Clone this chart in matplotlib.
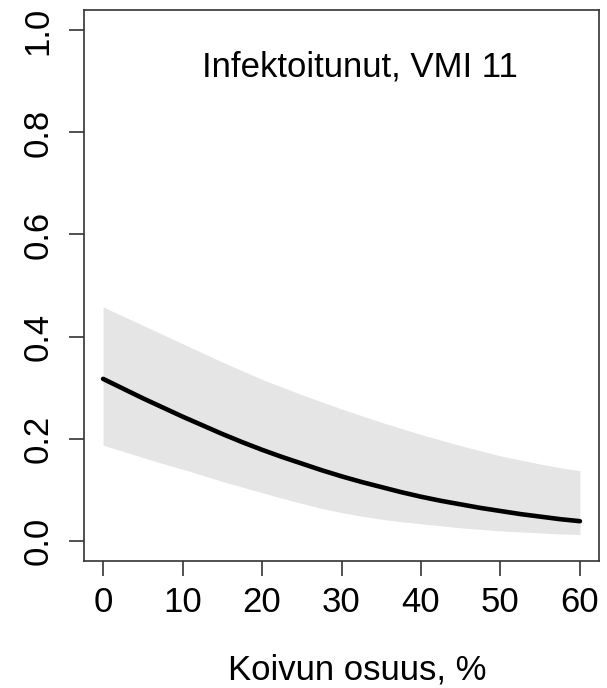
import numpy as np
import matplotlib
matplotlib.use('Agg')
import matplotlib.pyplot as plt

plt.rcParams['font.family'] = ['Liberation Sans', 'DejaVu Sans']

# birch share (%) and predicted probability with confidence band
koivu = [0, 2.5, 5, 7.5, 10, 12.5, 15, 17.5, 20, 22.5, 25, 27.5, 30,
         32.5, 35, 37.5, 40, 42.5, 45, 47.5, 50, 52.5, 55, 57.5, 60]
ennuste = [0.317, 0.298, 0.279, 0.261, 0.243, 0.226, 0.209, 0.193, 0.178, 0.164, 0.151, 0.138, 0.126,
           0.115, 0.105, 0.095, 0.086, 0.078, 0.071, 0.064, 0.058, 0.052, 0.047, 0.042, 0.038]
ylaraja = [0.458, 0.440, 0.422, 0.404, 0.386, 0.368, 0.350, 0.333, 0.316, 0.301, 0.286, 0.272, 0.258,
           0.245, 0.232, 0.220, 0.208, 0.197, 0.186, 0.176, 0.166, 0.158, 0.150, 0.143, 0.137]
alaraja = [0.187, 0.175, 0.163, 0.151, 0.140, 0.128, 0.116, 0.105, 0.094, 0.083, 0.073, 0.063, 0.055,
           0.048, 0.042, 0.037, 0.033, 0.029, 0.025, 0.022, 0.019, 0.017, 0.015, 0.013, 0.012]

fig = plt.figure(figsize=(6.07, 6.88), dpi=100)
ax = fig.add_axes([84 / 607, 1 - 561 / 688, (599 - 84) / 607, (561 - 10) / 688])

ax.fill_between(koivu, alaraja, ylaraja, color='#e5e5e5', linewidth=0)
ax.plot(koivu, ennuste, color='black', linewidth=3.3, solid_capstyle='round')

ax.set_xlim(-2.4, 62.4)
ax.set_ylim(-0.04, 1.04)
ax.set_xticks([0, 10, 20, 30, 40, 50, 60])
ax.set_yticks([0.0, 0.2, 0.4, 0.6, 0.8, 1.0])
ax.set_yticklabels(['0.0', '0.2', '0.4', '0.6', '0.8', '1.0'], rotation=90, va='center')

for s in ax.spines.values():
    s.set_linewidth(1.2)
    s.set_color('#333333')
ax.tick_params(axis='both', length=11, width=1.2, color='#333333', labelsize=25)
ax.tick_params(axis='x', pad=7)
ax.tick_params(axis='y', pad=10)

ax.text(0.536, 0.879, 'Infektoitunut, VMI 11', transform=ax.transAxes,
        ha='center', va='baseline', fontsize=25)
fig.text(357 / 607, 8 / 688, 'Koivun osuus, %', ha='center', va='baseline', fontsize=25)

fig.savefig('out.png', dpi=100)
